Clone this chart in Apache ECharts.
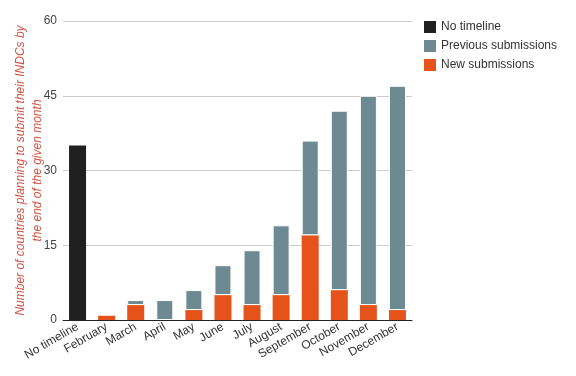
<!DOCTYPE html>
<html>
<head>
<meta charset="utf-8">
<script src="https://cdn.jsdelivr.net/npm/echarts@6/dist/echarts.min.js"></script>
<style>
  html, body { margin: 0; padding: 0; background: #fff; }
  #chart { width: 576px; height: 376px; }
</style>
</head>
<body>
<div id="chart"></div>
<script>
var categories = ['No timeline', 'February', 'March', 'April', 'May', 'June', 'July', 'August', 'September', 'October', 'November', 'December'];
var noTimeline = [35, null, null, null, null, null, null, null, null, null, null, null];
var newSubs = [null, 1, 3, 0, 2, 5, 3, 5, 17, 6, 3, 2];
var prevSubs = [null, 0, 1, 4, 4, 6, 11, 14, 19, 36, 42, 45];
var yTicks = [0, 15, 30, 45, 60];

var myChart = echarts.init(document.getElementById('chart'));
var font = 'Liberation Sans, Arial, sans-serif';

option = {
    animation: false,
    textStyle: { fontFamily: font },
    grid: { left: 63, right: 164, top: 21, bottom: 56, containLabel: false, outerBoundsMode: 'none' },
    legend: {
        orient: 'vertical',
        left: 424,
        top: 21,
        padding: 0,
        itemWidth: 12,
        itemHeight: 12,
        itemGap: 7,
        icon: 'rect',
        itemStyle: { borderWidth: 0 },
        textStyle: { fontSize: 12, color: '#333', fontFamily: font },
        data: ['No timeline', 'Previous submissions', 'New submissions']
    },
    xAxis: {
        type: 'category',
        data: categories,
        axisLine: { lineStyle: { color: '#222', width: 1 } },
        axisTick: { show: false },
        axisLabel: { rotate: 30, fontSize: 12, color: '#333', margin: 6, interval: 0 }
    },
    yAxis: {
        type: 'value',
        min: yTicks[0],
        max: yTicks[yTicks.length - 1],
        interval: 15,
        name: 'Number of countries planning to submit their INDCs by\nthe end of the given month',
        nameLocation: 'middle',
        nameRotate: 90,
        nameGap: 17,
        nameMoveOverlap: false,
        nameTextStyle: { color: '#d4503f', fontStyle: 'italic', fontSize: 12, lineHeight: 17 },
        axisLine: { show: false },
        axisTick: { show: false },
        axisLabel: { fontSize: 12, color: '#444', margin: 6 },
        splitLine: { lineStyle: { color: '#ccc' } }
    },
    series: [
        {
            name: 'No timeline',
            type: 'bar',
            stack: 'a',
            barWidth: 17,
            itemStyle: { color: '#202020' },
            data: noTimeline
        },
        {
            name: 'New submissions',
            type: 'bar',
            stack: 'a',
            barWidth: 17,
            itemStyle: { color: '#e5531a' },
            data: newSubs
        },
        {
            name: 'Previous submissions',
            type: 'bar',
            stack: 'a',
            barWidth: 17,
            itemStyle: { color: '#6d8992', borderColor: '#fff', borderWidth: 1 },
            data: prevSubs
        }
    ]
};
myChart.setOption(option);
</script>
</body>
</html>
